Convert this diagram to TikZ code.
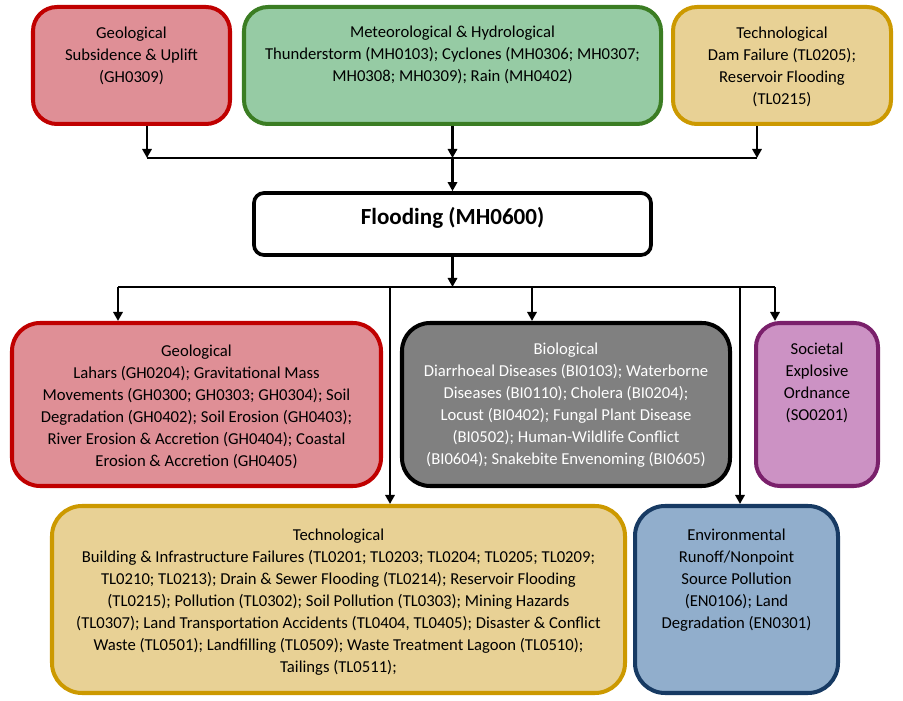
\documentclass[tikz,border=0pt]{standalone}
\usepackage{fontspec}
\setmainfont{Carlito}
\usepackage{xcolor}
\usepackage{tikz}
\usetikzlibrary{arrows.meta}

\definecolor{geofill}{RGB}{223,143,150}
\definecolor{geodraw}{RGB}{192,0,0}
\definecolor{metfill}{RGB}{150,203,164}
\definecolor{metdraw}{RGB}{59,125,35}
\definecolor{techfill}{RGB}{232,209,149}
\definecolor{techdraw}{RGB}{204,153,0}
\definecolor{biofill}{RGB}{128,128,128}
\definecolor{socfill}{RGB}{204,146,196}
\definecolor{socdraw}{RGB}{122,32,107}
\definecolor{envfill}{RGB}{145,174,204}
\definecolor{envdraw}{RGB}{23,58,99}

\newlength\pxu
\setlength\pxu{0.025cm}
% width, height, top padding (all in px), text
\newcommand{\cattext}[4]{\parbox[c][#2\pxu][t]{#1\pxu}{\centering\vspace*{#3\pxu}\strut #4}}

\begin{document}
\begin{tikzpicture}[x=0.025cm, y=-0.025cm,
  font=\fontsize{11.85}{15.65}\selectfont,
  catbox/.style={draw, line width=2.85pt, rounded corners=0.6cm, inner sep=0pt},
  arr/.style={line width=1.7pt, -{Triangle[width=6.6pt, length=6.4pt]}},
  link/.style={line width=1pt}]

\useasboundingbox (0,0) rectangle (903,701);

% causes
\node[catbox, draw=geodraw, fill=geofill] (topgeo) at (131.5,65.5)
  {\cattext{197}{117}{16}{Geological\\Subsidence \& Uplift\\(GH0309)}};
\node[catbox, draw=metdraw, fill=metfill] (topmet) at (452.5,65.5)
  {\cattext{417}{117}{15.5}{Meteorological \& Hydrological\\Thunderstorm (MH0103); Cyclones (MH0306; MH0307;\\MH0308; MH0309); Rain (MH0402)}};
\node[catbox, draw=techdraw, fill=techfill] (toptech) at (782,65.5)
  {\cattext{218}{117}{16.2}{Technological\\Dam Failure (TL0205);\\Reservoir Flooding\\(TL0215)}};

\node[catbox, draw=black, fill=white, rounded corners=0.25cm, line width=2.6pt,
  font=\fontsize{16.4}{20}\selectfont\bfseries] (flood) at (452.5,224)
  {\cattext{397}{62}{11.4}{Flooding (MH0600)}};

% effects
\node[catbox, draw=geodraw, fill=geofill, rounded corners=0.7cm] (botgeo) at (196.5,404.5)
  {\cattext{369}{163}{18.5}{Geological\\Lahars (GH0204); Gravitational Mass\\Movements (GH0300; GH0303; GH0304); Soil\\Degradation (GH0402); Soil Erosion (GH0403);\\River Erosion \& Accretion (GH0404); Coastal\\Erosion \& Accretion (GH0405)}};
\node[catbox, draw=black, fill=biofill, text=white, rounded corners=0.7cm] (bio) at (566,404.5)
  {\cattext{328}{163}{16.5}{Biological\\Diarrhoeal Diseases (BI0103); Waterborne\\Diseases (BI0110); Cholera (BI0204);\\Locust (BI0402); Fungal Plant Disease\\(BI0502); Human-Wildlife Conflict\\(BI0604); Snakebite Envenoming (BI0605)}};
\node[catbox, draw=socdraw, fill=socfill] (soc) at (817,404.5)
  {\cattext{122}{163}{16.5}{Societal\\Explosive\\Ordnance\\(SO0201)}};
\node[catbox, draw=techdraw, fill=techfill, rounded corners=0.75cm] (bottech) at (338.5,599.5)
  {\cattext{573}{187}{19.5}{Technological\\Building \& Infrastructure Failures (TL0201; TL0203; TL0204; TL0205; TL0209;\\TL0210; TL0213); Drain \& Sewer Flooding (TL0214); Reservoir Flooding\\(TL0215); Pollution (TL0302); Soil Pollution (TL0303); Mining Hazards\\(TL0307); Land Transportation Accidents (TL0404, TL0405); Disaster \& Conflict\\Waste (TL0501); Landfilling (TL0509); Waste Treatment Lagoon (TL0510);\\Tailings (TL0511);}};
\node[catbox, draw=envdraw, fill=envfill, rounded corners=0.75cm] (env) at (736.5,599.5)
  {\cattext{203}{187}{18.8}{Environmental\\Runoff/Nonpoint\\Source Pollution\\(EN0106); Land\\Degradation (EN0301)}};

\coordinate (g1) at (147,158);
\coordinate (topjoin) at (452.5,158);
\coordinate (t1) at (757,158);
\draw[link] (g1) -- (t1);
\draw[arr] (topgeo.south -| g1) -- (g1);
\draw[arr] (topmet.south) -- (topjoin);
\draw[arr] (toptech.south -| t1) -- (t1);
\draw[arr] (topjoin) -- (flood.north);

\coordinate (botjoin) at (452.5,287);
\coordinate (b1) at (118,287);
\coordinate (b2) at (390,287);
\coordinate (b3) at (532,287);
\coordinate (b4) at (740,287);
\coordinate (b5) at (775,287);
\draw[arr] (flood.south) -- (botjoin);
\draw[link] (b1) -- (b5);
\draw[arr] (b1) -- (b1 |- botgeo.north);
\draw[arr] (b2) -- (b2 |- bottech.north);
\draw[arr] (b3) -- (b3 |- bio.north);
\draw[arr] (b4) -- (b4 |- env.north);
\draw[arr] (b5) -- (b5 |- soc.north);

\end{tikzpicture}
\end{document}
